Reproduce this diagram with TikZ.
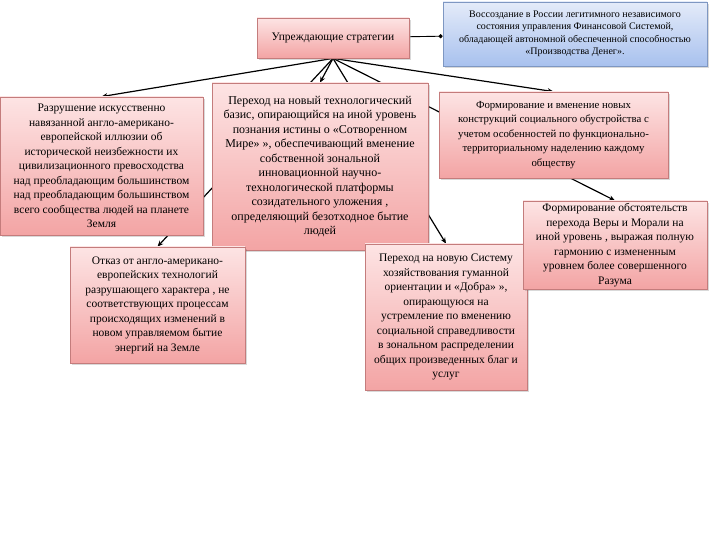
\documentclass[tikz,border=0pt]{standalone}
\usepackage{fontspec}
\setmainfont{Liberation Serif}
\usetikzlibrary{positioning}
\usetikzlibrary{arrows.meta}
\usetikzlibrary{shadows}
\definecolor{pink top}{HTML}{FDE4E4}
\definecolor{pink bottom}{HTML}{F3A4A4}
\definecolor{pink edge}{HTML}{C47C7C}
\definecolor{blue top}{HTML}{E4EBF9}
\definecolor{blue bottom}{HTML}{A8C1EE}
\definecolor{blue edge}{HTML}{7E97C2}
\colorlet{link colour}{black}
\tikzset{
    % Small sharp arrow heads
    >={Stealth[length=6pt, width=5pt]},
%
    % Fills and shadows
    pink fill/.style={top color=pink top, bottom color=pink bottom},
    blue fill/.style={top color=blue top, bottom color=blue bottom},
    soft shadow/.style={
        drop shadow={shadow xshift=2pt, shadow yshift=-2pt,
            opacity=0.25, fill=black!60}},
%
    % Text is always centred
    every node/.style={align=center},
    text size/.style={font=\fontsize{#1}{14.5bp}\selectfont},
%
    plan box/.style={
        draw=pink edge, line width=0.8pt, pink fill, soft shadow,
        rectangle, text size=11.5bp, inner sep=2pt},
    goal box/.style={
        draw=blue edge, line width=0.8pt, blue fill, soft shadow,
        rectangle, inner sep=2pt,
        font=\fontsize{10bp}{12.5bp}\selectfont},
%
    link/.style={draw, color=link colour, line width=1.2pt, ->},
    dot link/.style={draw, color=link colour, line width=0.9pt,
        -{Circle[length=4pt]}},
}
\pgfdeclarelayer{background}
\pgfsetlayers{background,main}

\begin{document}
\begin{tikzpicture}[
    x=1bp, y=-1bp]

\useasboundingbox (0,0) rectangle (720,540);

\path
    (333,38) node [plan box, minimum width=152bp, minimum height=40bp]
        (strategies) {Упреждающие стратегии}
    (575,34) node [goal box, minimum width=264bp, minimum height=64bp]
        (restore) {Воссоздание в России легитимного независимого\\
        состояния управления Финансовой Системой,\\
        обладающей автономной обеспеченной способностью\\
        «Производства Денег».}
    (101.5,166) node [plan box, minimum width=203bp, minimum height=138bp]
        (destroy) {Разрушение искусственно\\
        навязанной англо-американо-\\
        европейской иллюзии об\\
        исторической неизбежности их\\
        цивилизационного превосходства\\
        над преобладающим большинством\\
        над преобладающим большинством\\
        всего сообщества людей на планете\\
        Земля}
    (320,166.5) node [plan box, text size=12bp,
        minimum width=216bp, minimum height=167bp]
        (technology) {Переход на новый технологический\\
        базис, опирающийся на иной уровень\\
        познания истины о «Сотворенном\\
        Мире» », обеспечивающий вменение\\
        собственной зональной\\
        инновационной научно-\\
        технологической платформы\\
        созидательного уложения ,\\
        определяющий безотходное бытие\\
        людей}
    (553.5,135) node [plan box, text size=10.8bp,
        minimum width=229bp, minimum height=86bp]
        (society) {Формирование и вменение новых\\
        конструкций социального обустройства с\\
        учетом особенностей по функционально-\\
        территориальному наделению каждому\\
        обществу}
    (157.5,305) node [plan box, minimum width=175bp, minimum height=116bp]
        (refuse) {Отказ от англо-американо-\\
        европейских технологий\\
        разрушающего характера , не\\
        соответствующих процессам\\
        происходящих изменений в\\
        новом управляемом бытие\\
        энергий на Земле}
    (446,317) node [plan box, minimum width=162bp, minimum height=146bp]
        (economy) {Переход на новую Систему\\
        хозяйствования гуманной\\
        ориентации и «Добра» »,\\
        опирающуюся на\\
        устремление по вменению\\
        социальной справедливости\\
        в зональном распределении\\
        общих произведенных благ и\\
        услуг}
    (615,245) node [plan box, minimum width=184bp, minimum height=88bp]
        (faith) {Формирование обстоятельств\\
        перехода Веры и Морали на\\
        иной уровень , выражая полную\\
        гармонию с измененным\\
        уровнем более совершенного\\
        Разума};

% Links run behind the boxes
\begin{pgfonlayer}{background}
\draw [dot link] (strategies) -- (restore);
\draw [link] (strategies.south) -- (destroy.north);
\draw [link] (strategies.south) -- (refuse.north);
\draw [link] (strategies.south) -- (technology.north);
\draw [link] (strategies.south) -- (economy.north);
\draw [link] (strategies.south) -- (faith.north);
\draw [link] (strategies.south) -- (society.north);
\end{pgfonlayer}

\end{tikzpicture}
\end{document}
